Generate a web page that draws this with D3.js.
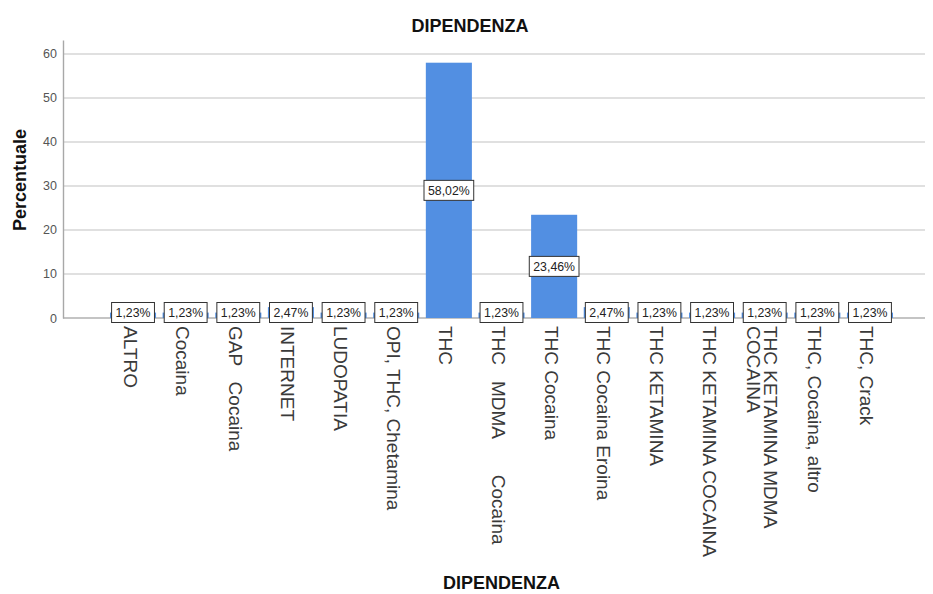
<!DOCTYPE html>
<html>
<head>
<meta charset="utf-8">
<script src="https://cdn.jsdelivr.net/npm/d3@7"></script>
<style>
  html, body { margin: 0; padding: 0; background: #fff; }
  svg { display: block; font-family: "Liberation Sans", Arial, sans-serif; }
</style>
</head>
<body>
<svg id="chart" width="933" height="594"></svg>
<script>
// Categories of the DIPENDENZA variable and their percentages
const categories = [
  "ALTRO", "Cocaina", "GAP   Cocaina", "INTERNET", "LUDOPATIA",
  "OPI, THC, Chetamina", "THC", "THC   MDMA       Cocaina", "THC Cocaina",
  "THC Cocaina Eroina", "THC KETAMINA", "THC KETAMINA COCAINA",
  "THC KETAMINA MDMA COCAINA", "THC, Cocaina, altro", "THC, Crack"
];
const percentages = [
  1.23, 1.23, 1.23, 2.47, 1.23,
  1.23, 58.02, 1.23, 23.46,
  2.47, 1.23, 1.23,
  1.23, 1.23, 1.23
];
const yTicks = [0, 10, 20, 30, 40, 50, 60];
const chartTitle = "DIPENDENZA";
const xTitle = "DIPENDENZA";
const yTitle = "Percentuale";

const svg = d3.select("#chart");
const plot = { left: 63, right: 925, top: 40, bottom: 318 };

const x = d3.scaleBand()
  .domain(categories)
  .range([106.7, 896.3])
  .paddingInner(0.125)
  .paddingOuter(0.0625);

const y = d3.scaleLinear()
  .domain([0, 63.18])
  .range([plot.bottom, plot.top]);

// Horizontal grid lines
svg.append("g")
  .selectAll("line")
  .data(yTicks)
  .join("line")
  .attr("x1", plot.left)
  .attr("x2", plot.right)
  .attr("y1", d => y(d))
  .attr("y2", d => y(d))
  .attr("stroke", d => d === 0 ? "#b0b0b0" : "#d6d6d6")
  .attr("stroke-width", 1.4);

// Y axis (line + labels)
const yAxis = svg.append("g")
  .attr("transform", `translate(${plot.left},0)`)
  .call(d3.axisLeft(y).tickValues(yTicks).tickSize(0).tickPadding(6).tickFormat(d3.format("d")));
yAxis.select(".domain").attr("stroke", "#a8a8a8").attr("stroke-width", 1.4);
yAxis.selectAll("text")
  .attr("font-size", 12.5)
  .attr("fill", "#555")
  .attr("font-family", "Liberation Sans, Arial, sans-serif");

// Bars
svg.append("g")
  .selectAll("rect")
  .data(categories)
  .join("rect")
  .attr("x", d => x(d))
  .attr("width", x.bandwidth())
  .attr("y", (d, i) => y(percentages[i]))
  .attr("height", (d, i) => y(0) - y(percentages[i]))
  .attr("fill", "#528fe2");

// Value labels in boxes
const fmt = v => d3.format(".2f")(v).replace(".", ",") + "%";
const labels = svg.append("g")
  .selectAll("g")
  .data(categories)
  .join("g")
  .attr("transform", (d, i) => {
    const mid = (y(percentages[i]) + y(0)) / 2;
    const cy = Math.min(mid, y(0) - 5.5);
    return `translate(${x(d) + x.bandwidth() / 2},${cy})`;
  });
labels.append("text")
  .attr("text-anchor", "middle")
  .attr("dy", "0.36em")
  .attr("font-size", 12.3)
  .attr("fill", "#222")
  .text((d, i) => fmt(percentages[i]));
labels.each(function () {
  const g = d3.select(this);
  const w = g.select("text").node().getComputedTextLength() + 8;
  g.insert("rect", "text")
    .attr("x", -w / 2)
    .attr("y", -10)
    .attr("width", w)
    .attr("height", 20)
    .attr("fill", "#fff")
    .attr("stroke", "#333")
    .attr("stroke-width", 1);
});

// Category labels, rotated and wrapped when too long
const maxLen = 250;
const catG = svg.append("g")
  .selectAll("text")
  .data(categories)
  .join("text")
  .attr("transform", d => `translate(${x(d) + x.bandwidth() / 2},326) rotate(90)`)
  .attr("font-size", 19)
  .attr("fill", "#3a3a3a")
  .style("white-space", "pre");

catG.each(function (d) {
  const t = d3.select(this);
  const words = d.split(" ");
  const lines = [];
  let line = [];
  const probe = t.append("tspan");
  words.forEach(w => {
    line.push(w);
    probe.text(line.join(" "));
    if (probe.node().getComputedTextLength() > maxLen && line.length > 1) {
      line.pop();
      lines.push(line.join(" "));
      line = [w];
    }
  });
  lines.push(line.join(" "));
  probe.remove();
  const n = lines.length;
  lines.forEach((ln, k) => {
    t.append("tspan")
      .attr("x", 0)
      .attr("y", 0)
      .attr("dy", (0.5 - (n - 1) * 0.45 + k * 0.9) + "em")
      .text(ln);
  });
});

// Titles
svg.append("text")
  .attr("x", 470)
  .attr("y", 32)
  .attr("text-anchor", "middle")
  .attr("font-size", 18)
  .attr("font-weight", "bold")
  .attr("fill", "#111")
  .text(chartTitle);

svg.append("text")
  .attr("x", (x.range()[0] + x.range()[1]) / 2)
  .attr("y", 589)
  .attr("text-anchor", "middle")
  .attr("font-size", 18)
  .attr("font-weight", "bold")
  .attr("fill", "#111")
  .text(xTitle);

svg.append("text")
  .attr("transform", "translate(26,180) rotate(-90)")
  .attr("text-anchor", "middle")
  .attr("font-size", 18)
  .attr("font-weight", "bold")
  .attr("fill", "#111")
  .text(yTitle);
</script>
</body>
</html>
